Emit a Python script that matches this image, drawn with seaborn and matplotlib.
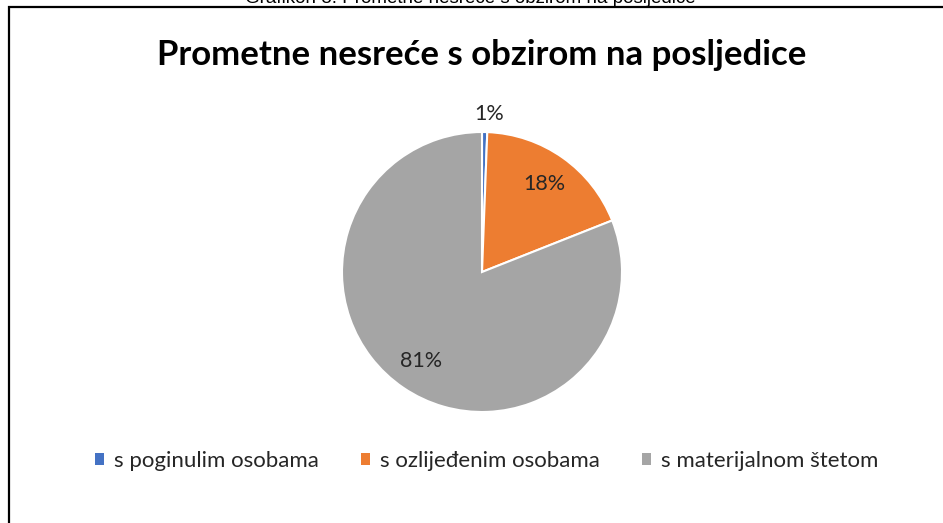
import matplotlib
matplotlib.use('Agg')
import matplotlib.pyplot as plt
import seaborn as sns
import numpy as np
from matplotlib.patches import Rectangle, Patch

# podaci
kategorije = ['s poginulim osobama', 's ozlijeđenim osobama', 's materijalnom štetom']
udjeli = [0.6, 18.4, 81.0]
oznake = ['1%', '18%', '81%']
boje = ['#4472C4', '#ED7D31', '#A5A5A5']

naslov = 'Prometne nesreće s obzirom na posljedice'
opis = 'Grafikon 8. Prometne nesreće s obzirom na posljedice'

sns.set_theme(style='white')
plt.rcParams['font.family'] = ['Lato', 'DejaVu Sans']

W, H = 943, 523
fig = plt.figure(figsize=(W / 100, H / 100), dpi=100)

# okvir oko grafikona
fig.patches.append(Rectangle((9 / W, -0.05), 1.0, 1 - 7 / H + 0.05,
                             transform=fig.transFigure, fill=False,
                             edgecolor='black', linewidth=1.6))
fig.text(470 / W, 1 - 3 / H, opis, ha='center', va='baseline',
         fontsize=13.5, family='Liberation Sans', color='black')

# pie: centar (482, 272), radius 140 px
cx, cy, r = 482, 272, 140
side = 2.5 * r
ax = fig.add_axes([(cx - side / 2) / W, (H - cy - side / 2) / H, side / W, side / H])
wedges, texts, autotexts = ax.pie(
    udjeli, colors=boje, startangle=90, counterclock=False,
    autopct='%1.0f%%', pctdistance=0.77,
    wedgeprops=dict(edgecolor='white', linewidth=1.5),
    textprops=dict(fontsize=15.5, color='#262626'))
for t, lab in zip(autotexts, oznake):
    t.set_text(lab)
# prva oznaka izvan kruga
theta = np.deg2rad(90 - udjeli[0] / 100 * 360 / 2)
autotexts[0].set_position((1.13 * np.cos(theta) + 0.03, 1.13 * np.sin(theta)))
ax.set_xlim(-1.25, 1.25)
ax.set_ylim(-1.25, 1.25)
ax.set_aspect('equal')

fig.text(482 / W, 1 - 55 / H, naslov, ha='center', va='center',
         fontsize=25, fontweight='bold', color='black')

handles = [Patch(facecolor=c, edgecolor='none') for c in boje]
fig.legend(handles, kategorije, loc='center', bbox_to_anchor=(487 / W, 1 - 461 / H),
           ncol=3, frameon=False, fontsize=16, handlelength=0.4, handleheight=0.4,
           handletextpad=0.45, columnspacing=1.9, labelcolor='#262626')

fig.savefig('out.png', dpi=100)
